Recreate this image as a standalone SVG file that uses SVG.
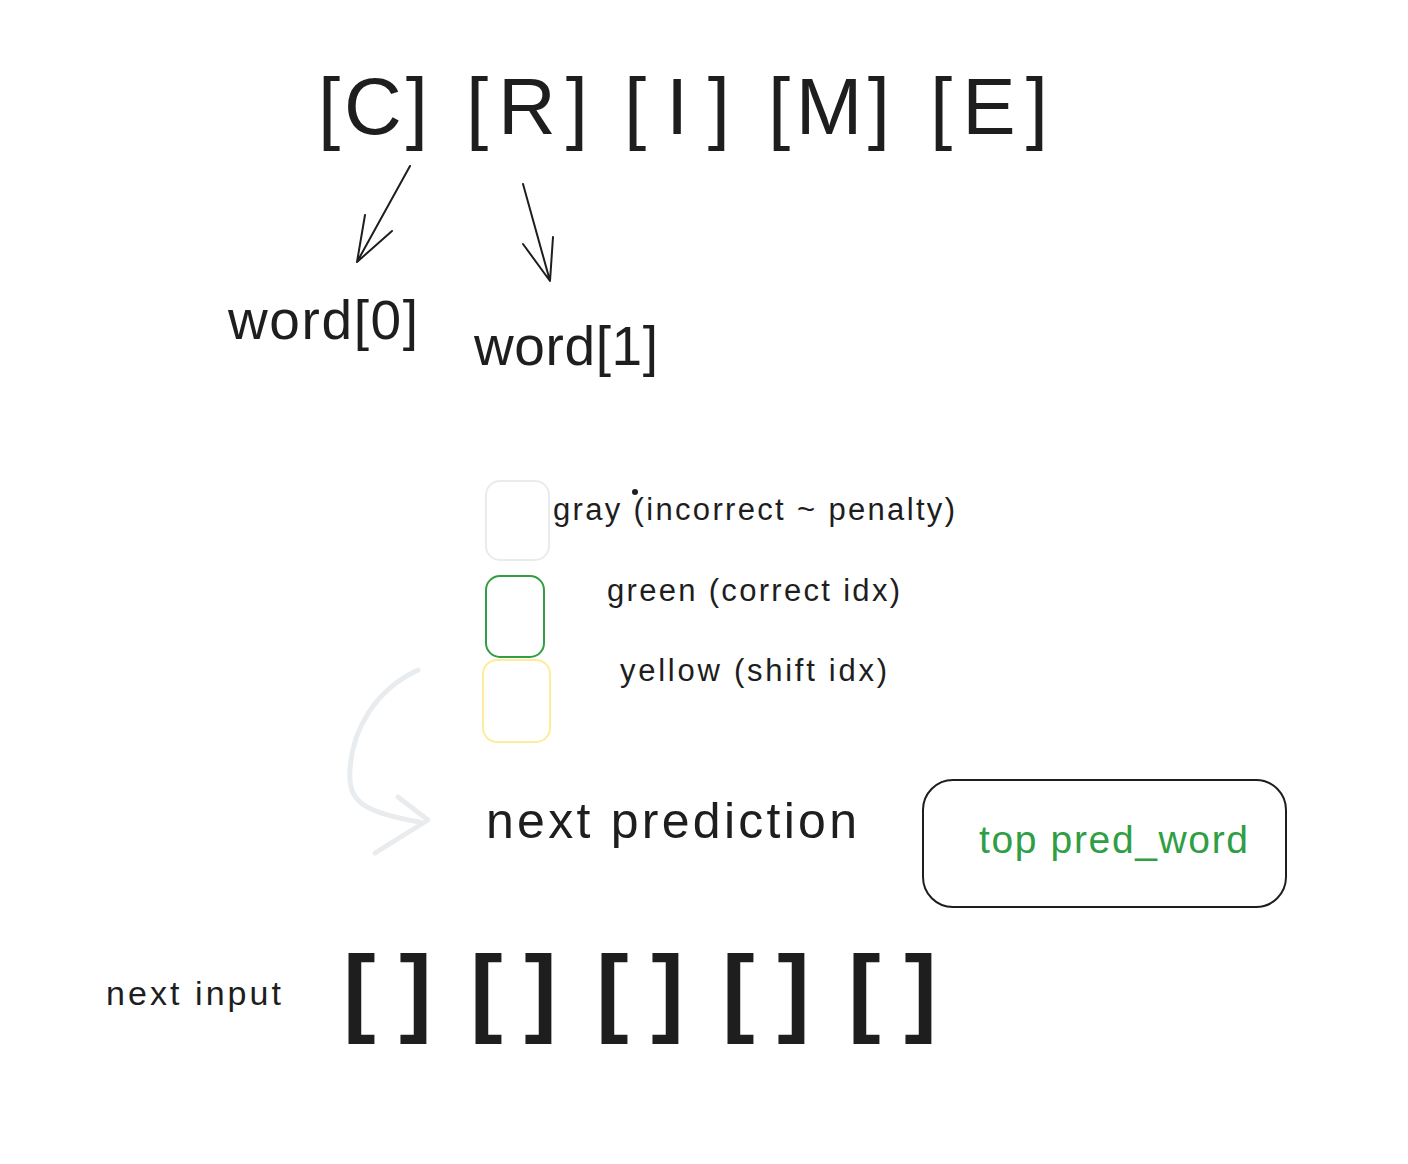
<svg xmlns="http://www.w3.org/2000/svg" width="1408" height="1164" viewBox="0 0 1408 1164">
<style>
  text { font-family: "Liberation Sans", Arial, sans-serif; fill: #1e1e1e; }
  .big { font-size: 80px; }
  .bot { font-size: 98px; font-weight: bold; }
  .word { font-size: 55px; }
  .leg { font-size: 31px; }
  .green-text { fill: #2f9e44; }
  .arrow { fill: none; stroke: #1e1e1e; stroke-width: 2; stroke-linecap: round; stroke-linejoin: round; }
  .swatch { fill: none; stroke-width: 2; }
</style>
<rect width="1408" height="1164" fill="#ffffff"/>

<g id="top-word">
  <text class="big" x="318" y="134" textLength="110" lengthAdjust="spacing">[C]</text>
  <text class="big" x="466" y="134" textLength="122" lengthAdjust="spacing">[R]</text>
  <text class="big" x="624" y="134" textLength="106" lengthAdjust="spacing">[I]</text>
  <text class="big" x="768" y="134" textLength="122" lengthAdjust="spacing">[M]</text>
  <text class="big" x="930" y="134" textLength="118" lengthAdjust="spacing">[E]</text>
</g>

<g id="word0">
  <text class="word" x="228" y="339" textLength="190" lengthAdjust="spacing">word[0]</text>
</g>
<g id="word1">
  <text class="word" x="474" y="365" textLength="184" lengthAdjust="spacing">word[1]</text>
</g>

<g id="legend-gray">
  <rect class="swatch" x="486" y="481" width="63" height="79" rx="14" stroke="#e9ecef"/>
  <circle cx="635" cy="492" r="3" fill="#1e1e1e"/>
  <text class="leg" x="553" y="520" textLength="402" lengthAdjust="spacing">gray (incorrect ~ penalty)</text>
</g>
<g id="legend-green">
  <rect class="swatch" x="486" y="576" width="58" height="81" rx="14" stroke="#2f9e44"/>
  <text class="leg" x="607" y="601" font-size="32" textLength="293" lengthAdjust="spacing">green (correct idx)</text>
</g>
<g id="legend-yellow">
  <rect class="swatch" x="483" y="660" width="67" height="82" rx="14" stroke="#ffec99"/>
  <text class="leg" x="620" y="681" font-size="32" textLength="267" lengthAdjust="spacing">yellow (shift idx)</text>
</g>

<g id="next-prediction">
  <text x="486" y="838" font-size="50" textLength="371" lengthAdjust="spacing">next prediction</text>
</g>

<g id="top-pred-word">
  <rect x="923" y="780" width="363" height="127" rx="30" fill="none" stroke="#1e1e1e" stroke-width="2"/>
  <text class="green-text" x="979" y="853" font-size="39" textLength="269" lengthAdjust="spacing">top pred_word</text>
</g>

<g id="next-input">
  <text x="106" y="1005" font-size="34" textLength="175" lengthAdjust="spacing">next input</text>
</g>

<g id="input-slots">
  <text class="bot" x="343" y="1024">[</text><text class="bot" x="432" y="1024" text-anchor="end">]</text>
  <text class="bot" x="470" y="1024">[</text><text class="bot" x="557" y="1024" text-anchor="end">]</text>
  <text class="bot" x="596" y="1024">[</text><text class="bot" x="684" y="1024" text-anchor="end">]</text>
  <text class="bot" x="722" y="1024">[</text><text class="bot" x="810" y="1024" text-anchor="end">]</text>
  <text class="bot" x="848" y="1024">[</text><text class="bot" x="937" y="1024" text-anchor="end">]</text>
</g>

<g id="connectors">
  <path class="arrow" d="M410 166 L357 262 M365 215 L357 262 L392 231"/>
  <path class="arrow" d="M523 184 L550 281 M553 237 L550 281 L523 244"/>
  <path d="M418 670 C375 690 352 730 350 770 C348 800 360 812 420 822" fill="none" stroke="#e9ecef" stroke-width="5" stroke-linecap="round"/>
  <path d="M398 797 L428 820 L375 853" fill="none" stroke="#e9ecef" stroke-width="5" stroke-linecap="round" stroke-linejoin="round"/>
</g>
</svg>
